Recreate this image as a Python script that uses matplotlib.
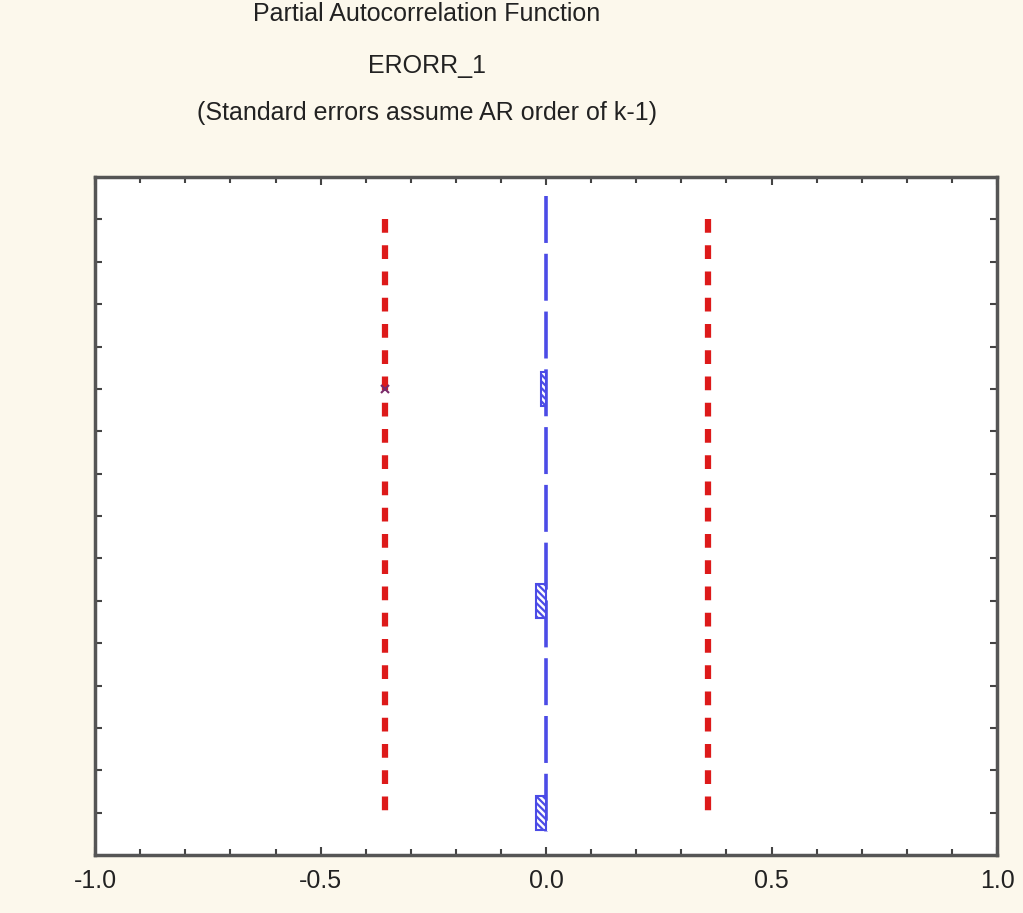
import matplotlib
matplotlib.use("Agg")
import matplotlib.pyplot as plt
import matplotlib.font_manager as fm
import numpy as np

# font: narrow sans like the STATISTICA screenshot (fall back to Liberation Sans)
_names = {f.name for f in fm.fontManager.ttflist}
FONT = "Liberation Sans Narrow" if "Liberation Sans Narrow" in _names else "Liberation Sans"
plt.rcParams["font.family"] = [FONT, "DejaVu Sans"]

# ── data ──
LAGS = np.arange(1, 16)
PACF = [0.0, 0.0, 0.0, 0.0, -0.012, 0.0, 0.0, 0.0, 0.0, -0.022,
        0.0, 0.0, 0.0, 0.0, -0.022]
CONF_LIMIT = 0.358
TITLE_LINES = ["Partial Autocorrelation Function",
               "ERORR_1",
               "(Standard errors assume AR order of k-1)"]
X_TICKS = [-1.0, -0.5, 0.0, 0.5, 1.0]

BG = "#fcf8ec"
RED = "#dd1a1a"
BLUE = "#4b4be6"

fig = plt.figure(figsize=(10.23, 9.13), dpi=100, facecolor=BG)
ax = fig.add_axes([0.093, 0.0635, 0.8816, 0.7426])
ax.set_facecolor("white")

# PACF bars (horizontal, hatched)
plt.rcParams["hatch.linewidth"] = 1.6
nz = [(l, v) for l, v in zip(LAGS, PACF) if v != 0]
ax.barh([l for l, _ in nz], [v for _, v in nz], height=0.8,
        facecolor="white", edgecolor=BLUE, hatch="\\\\\\\\\\", linewidth=1.5, zorder=3)

# zero line
ax.plot([0, 0], [LAGS[0] - 0.55, LAGS[-1] + 0.45], color=BLUE, lw=2.6,
        dashes=(13, 3), zorder=2)

# confidence limits
for s in (-1, 1):
    ax.plot([s * CONF_LIMIT] * 2, [LAGS[0], LAGS[-1]], color=RED, lw=4.5,
            dashes=(2.2, 2.0), zorder=2)
ax.plot([-CONF_LIMIT], [5], marker="x", color="#7a2a6a", ms=6, mew=1.5, zorder=4)

ax.set_xlim(-1.0, 1.0)
ax.set_ylim(16, 0)
ax.set_xticks(X_TICKS)
ax.set_xticklabels([f"{t:.1f}" for t in X_TICKS], fontsize=18, color="#222222")
ax.set_xticks(np.arange(-0.9, 1.0, 0.1), minor=True)
ax.set_yticks(LAGS)
ax.set_yticklabels([])
ax.tick_params(which="both", direction="in", top=True, right=True,
               color="#444444", width=1.5)
ax.tick_params(which="major", length=6, pad=10)
ax.tick_params(which="minor", length=4)
ax.tick_params(axis="y", length=5)
for sp in ax.spines.values():
    sp.set_color("#555555")
    sp.set_linewidth(2.5)

# titles
for y, txt in zip([0.985, 0.928, 0.876], TITLE_LINES):
    fig.text(0.417, y, txt, ha="center", va="center", fontsize=18, color="#222222")

fig.savefig("out.png", dpi=100, facecolor=BG)
